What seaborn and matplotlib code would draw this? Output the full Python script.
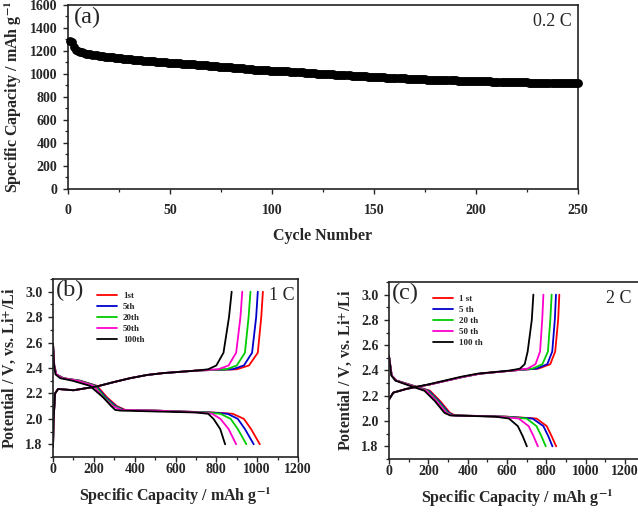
import numpy as np
import pandas as pd
import matplotlib
matplotlib.use("Agg")
import matplotlib.pyplot as plt
from matplotlib.ticker import MultipleLocator, FormatStrFormatter
import seaborn as sns

# (a) capacity vs cycle number, 0.2 C (cycles 1..250)
cycles = list(range(1, 251))
capacity = [
    1290, 1278, 1232, 1212, 1200, 1193, 1187, 1182, 1178, 1174,
    1171, 1168, 1165, 1162, 1160, 1157, 1155, 1152, 1150, 1148,
    1146, 1144, 1142, 1140, 1138, 1136, 1134, 1132, 1130, 1128,
    1126, 1124, 1123, 1121, 1120, 1118, 1116, 1115, 1113, 1112,
    1110, 1109, 1107, 1106, 1104, 1103, 1102, 1100, 1099, 1098,
    1097, 1096, 1094, 1093, 1092, 1091, 1090, 1089, 1087, 1086,
    1084, 1083, 1081, 1080, 1078, 1077, 1075, 1074, 1072, 1070,
    1069, 1068, 1066, 1065, 1064, 1063, 1062, 1060, 1059, 1058,
    1056, 1054, 1053, 1051, 1049, 1048, 1046, 1044, 1042, 1040,
    1039, 1038, 1036, 1035, 1034, 1033, 1032, 1031, 1029, 1028,
    1027, 1027, 1026, 1025, 1024, 1024, 1023, 1022, 1021, 1020,
    1019, 1017, 1016, 1015, 1013, 1012, 1011, 1009, 1008, 1006,
    1005, 1004, 1003, 1002, 1001, 1000, 999, 998, 997, 996,
    995, 994, 993, 992, 991, 990, 989, 988, 986, 985,
    984, 983, 982, 981, 980, 979, 978, 977, 976, 975,
    974, 973, 972, 971, 970, 969, 968, 968, 967, 966,
    965, 964, 963, 962, 961, 960, 960, 959, 958, 957,
    956, 955, 955, 954, 953, 952, 952, 951, 950, 950,
    949, 949, 948, 947, 947, 946, 946, 945, 944, 944,
    943, 943, 942, 941, 941, 940, 940, 939, 939, 938,
    938, 937, 937, 936, 936, 935, 935, 934, 934, 933,
    933, 932, 932, 931, 931, 930, 930, 929, 929, 929,
    928, 928, 927, 927, 927, 926, 926, 925, 925, 925,
    924, 924, 924, 923, 923, 923, 922, 922, 922, 921,
    921, 921, 920, 920, 920, 919, 919, 919, 918, 918,
]

cycle_names_b = ["1st", "5th", "20th", "50th", "100th"]
cycle_names_c = ["1 st", "5 th", "20 th", "50 th", "100 th"]
line_colors = ["#ff0000", "#0000cc", "#00cc00", "#ff00cc", "#000000"]

# (b) 1 C  -- discharge
v_dis_b = [2.59, 2.42, 2.35, 2.32, 2.30, 2.26, 2.17, 2.10, 2.07, 2.065, 2.05, 2.04, 2.00, 1.92, 1.80]
cap_dis_b = [
    [0, 6, 16, 52, 134, 215, 264, 313, 354, 500, 786, 880, 935, 970, 1013],
    [0, 6, 16, 50, 130, 210, 258, 307, 348, 500, 770, 855, 905, 940, 983],
    [0, 6, 16, 48, 126, 205, 252, 300, 342, 500, 750, 820, 870, 905, 947],
    [0, 6, 16, 45, 120, 198, 245, 293, 335, 500, 720, 780, 820, 860, 897],
    [0, 5, 12, 35, 95, 180, 245, 285, 305, 330, 700, 760, 786, 819, 843],
]
# (b) 1 C  -- charge
v_ch_b = [1.78, 2.00, 2.20, 2.235, 2.225, 2.255, 2.29, 2.32, 2.345, 2.36, 2.38, 2.39, 2.42, 2.52, 2.80, 3.00]
cap_ch_b = [
    [0, 3, 10, 25, 100, 215, 300, 378, 460, 541, 705, 900, 960, 1003, 1020, 1028],
    [0, 3, 10, 25, 100, 215, 300, 378, 460, 541, 705, 880, 935, 975, 995, 1003],
    [0, 3, 10, 25, 100, 215, 300, 378, 460, 541, 705, 850, 900, 940, 958, 967],
    [0, 3, 10, 25, 100, 215, 300, 378, 460, 541, 705, 810, 860, 897, 918, 927],
    [0, 3, 10, 25, 100, 215, 300, 378, 460, 541, 705, 760, 800, 835, 862, 875],
]

# (c) 2 C  -- discharge
v_dis_c = [2.515, 2.36, 2.32, 2.28, 2.24, 2.16, 2.065, 2.045, 2.035, 2.02, 1.96, 1.88, 1.80]
cap_dis_c = [
    [0, 14, 39, 124, 208, 259, 310, 336, 600, 750, 802, 827, 850],
    [0, 14, 38, 120, 202, 253, 304, 330, 590, 730, 785, 810, 831],
    [0, 14, 37, 116, 196, 247, 298, 324, 580, 700, 750, 775, 797],
    [0, 14, 36, 112, 190, 241, 292, 318, 560, 660, 710, 735, 757],
    [0, 12, 32, 104, 180, 232, 282, 310, 540, 610, 655, 680, 701],
]
# (c) 2 C  -- charge
v_ch_c = [2.17, 2.225, 2.255, 2.29, 2.35, 2.375, 2.40, 2.415, 2.45, 2.55, 2.80, 3.00]
cap_ch_c = [
    [0, 22, 90, 208, 378, 463, 632, 760, 820, 845, 860, 866],
    [0, 22, 90, 208, 378, 463, 632, 750, 805, 830, 843, 849],
    [0, 22, 90, 208, 378, 463, 632, 730, 780, 808, 820, 827],
    [0, 22, 90, 208, 378, 463, 632, 705, 745, 768, 779, 785],
    [0, 22, 90, 200, 365, 450, 618, 666, 690, 705, 726, 734],
]


def curves_frame(names, v_dis, caps_dis, v_ch, caps_ch):
    rows = []
    for name, cd, cc in zip(names, caps_dis, caps_ch):
        for c, v in zip(cd, v_dis):
            rows.append((name, name + "-d", c, v))
        for c, v in zip(cc, v_ch):
            rows.append((name, name + "-c", c, v))
    return pd.DataFrame(rows, columns=["cycle", "branch", "cap", "V"])


sns.set_style("ticks")
plt.rcParams["font.family"] = ["Liberation Serif", "DejaVu Serif"]
plt.rcParams["mathtext.fontset"] = "stix"
plt.rcParams["axes.linewidth"] = 1.2
plt.rcParams["xtick.direction"] = "out"
plt.rcParams["ytick.direction"] = "out"

fig = plt.figure(figsize=(6.38, 5.14), dpi=100)
ax_a = fig.add_axes([0.1066, 0.6323, 0.7994, 0.358])
ax_b = fig.add_axes([0.0831, 0.1109, 0.384, 0.3463])
ax_c = fig.add_axes([0.6097, 0.107, 0.4008, 0.3444])


def style_axes(ax, xpad):
    for s in ax.spines.values():
        s.set_visible(True)
        s.set_linewidth(1.2)
        s.set_color("#222222")
    ax.tick_params(which="major", length=3.5, width=1, labelsize=10, pad=4)
    ax.tick_params(which="minor", length=2, width=0.9)
    ax.tick_params(axis="x", which="major", pad=xpad)
    for lab in ax.get_xticklabels() + ax.get_yticklabels():
        lab.set_fontweight("bold")


# (a)
sns.scatterplot(x=cycles, y=capacity, ax=ax_a, color="black", s=40,
                linewidth=0, legend=False, clip_on=False, zorder=3)
ax_a.set_xlim(0, 250)
ax_a.set_ylim(0, 1600)
ax_a.xaxis.set_major_locator(MultipleLocator(50))
ax_a.xaxis.set_minor_locator(MultipleLocator(25))
ax_a.yaxis.set_major_locator(MultipleLocator(200))
ax_a.yaxis.set_minor_locator(MultipleLocator(100))
style_axes(ax_a, 7)
ax_a.set_xlabel("Cycle Number", fontsize=11.5, fontweight="bold", labelpad=8)
ax_a.set_ylabel(r"Specific Capacity / mAh g$^{\mathbf{-1}}$", fontsize=11.5, fontweight="bold", labelpad=4)
ax_a.text(0.012, 0.99, "(a)", transform=ax_a.transAxes, fontsize=17.5, va="top", ha="left")
ax_a.text(0.988, 0.955, "0.2 C", transform=ax_a.transAxes, fontsize=13, va="top", ha="right")

# (b) and (c)
panels = [
    (ax_b, curves_frame(cycle_names_b, v_dis_b, cap_dis_b, v_ch_b, cap_ch_b), cycle_names_b, "(b)", 1200, 0.145),
    (ax_c, curves_frame(cycle_names_c, v_dis_c, cap_dis_c, v_ch_c, cap_ch_c), cycle_names_c, "(c)", 1300, 0.139),
]
for ax, df, names, tag, xmax, lx in panels:
    sns.lineplot(data=df, x="cap", y="V", hue="cycle", units="branch", estimator=None,
                 sort=False, palette=dict(zip(names, line_colors)), hue_order=names,
                 linewidth=1.3, ax=ax)
    ax.set_xlim(0, xmax)
    ax.set_ylim(1.7, 3.1)
    ax.xaxis.set_major_locator(MultipleLocator(200))
    ax.xaxis.set_minor_locator(MultipleLocator(100))
    ax.yaxis.set_major_locator(MultipleLocator(0.2))
    ax.yaxis.set_minor_locator(MultipleLocator(0.1))
    ax.yaxis.set_major_formatter(FormatStrFormatter("%.1f"))
    style_axes(ax, 1)
    ax.set_xlabel(r"Specific Capacity / mAh g$^{\mathbf{-1}}$", fontsize=11.5, fontweight="bold", labelpad=7)
    ax.set_ylabel(r"Potential / V, vs. Li$^{\mathbf{+}}$/Li", fontsize=11.5, fontweight="bold", labelpad=5)
    ax.text(0.01, 0.995, tag, transform=ax.transAxes, fontsize=17.5, va="top", ha="left")
    leg = ax.legend(loc="upper left", bbox_to_anchor=(lx, 0.975), frameon=False,
                    handlelength=2.3, labelspacing=0.3, handletextpad=0.6,
                    prop={"weight": "bold", "size": 6.5})
    for h in leg.get_lines():
        h.set_linewidth(1.3)

ax_b.text(0.985, 0.955, "1 C", transform=ax_b.transAxes, fontsize=13, va="top", ha="right")
ax_c.text(0.95, 0.955, "2 C", transform=ax_c.transAxes, fontsize=13, va="top", ha="right")

fig.savefig("out.png", dpi=100)
